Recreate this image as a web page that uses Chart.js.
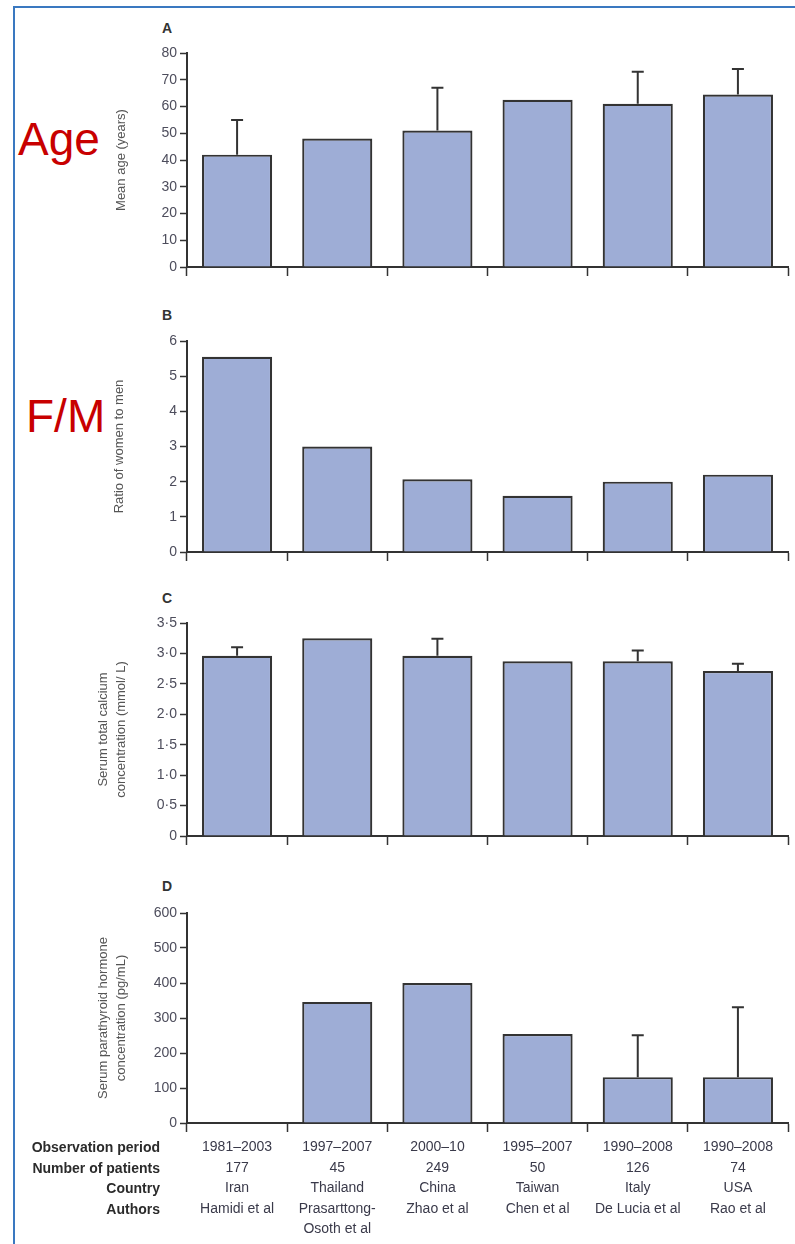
<!DOCTYPE html>
<html lang="en">
<head>
    <meta charset="UTF-8">
    <title>Primary hyperparathyroidism: six cohorts</title>
    <style>
        html, body { margin: 0; padding: 0; overflow: hidden; background: #fff; }
        body { width: 795px; height: 1244px; position: relative; font-family: "Liberation Sans Narrow", "Liberation Sans", sans-serif; }
        .frame { position: absolute; left: 13px; top: 6px; width: 800px; height: 1300px;
                 border-left: 2px solid #3a78c0; border-top: 2px solid #3a78c0; }
        canvas { position: absolute; left: 0; }
        .big { position: absolute; font-family: "Liberation Sans", Arial, sans-serif; font-size: 46px;
               line-height: 46px; color: #c80000; }
        .letter { position: absolute; left: 160px; width: 14px; text-align: center; font-weight: bold;
                  font-size: 14px; line-height: 14px; color: #333; }
        .rows { position: absolute; left: 0; width: 160px; top: 1137px; text-align: right; font-weight: bold;
                font-size: 14px; line-height: 20.5px; color: #2b2b2b; }
    </style>
    <script src="https://cdn.jsdelivr.net/npm/chart.js"></script>
</head>
<body>
    <div class="frame"></div>
    <div class="big" style="left:18px; top:116px;">Age</div>
    <div class="big" style="left:26px; top:393px;">F/M</div>
    <div class="letter" style="top:21px;">A</div>
    <div class="letter" style="top:308px;">B</div>
    <div class="letter" style="top:591px;">C</div>
    <div class="letter" style="top:879px;">D</div>

    <canvas id="chartA"></canvas>
    <canvas id="chartB"></canvas>
    <canvas id="chartC"></canvas>
    <canvas id="chartD"></canvas>

    <div class="rows">Observation period<br>Number of patients<br>Country<br>Authors</div>

    <script>
        // study columns
        const periods   = ['1981–2003', '1997–2007', '2000–10', '1995–2007', '1990–2008', '1990–2008'];
        const patients  = ['177', '45', '249', '50', '126', '74'];
        const countries = ['Iran', 'Thailand', 'China', 'Taiwan', 'Italy', 'USA'];
        const authors   = [['Hamidi et al'], ['Prasarttong-', 'Osoth et al'], ['Zhao et al'],
                           ['Chen et al'], ['De Lucia et al'], ['Rao et al']];

        // A: mean age (years), upper error bar end
        const meanAge    = [42, 48, 51, 62.5, 61, 64.5];
        const meanAgeErr = [55, null, 67, null, 73, 74];
        // B: ratio women to men
        const ratioFM = [5.55, 3.0, 2.07, 1.6, 2.0, 2.2];
        // C: serum total calcium (mmol/L)
        const calcium    = [2.96, 3.25, 2.96, 2.87, 2.87, 2.71];
        const calciumErr = [3.1, null, 3.24, null, 3.05, 2.83];
        // D: serum parathyroid hormone (pg/mL)
        const pth    = [null, 346, 400, 254, 131, 131];
        const pthErr = [null, null, null, null, 251, 331];

        const ink = '#333';
        const tickInk = '#4d4d5c';
        const barFill = '#9eadd6';
        const fontFam = '"Liberation Sans Narrow", "Liberation Sans", sans-serif';

        // column labels for the bottom panel
        const colLabels = periods.map((p, i) => [p, patients[i], countries[i]].concat(authors[i]));

        // only the upper whisker is drawn, as in the print figure
        const errorBars = {
            id: 'errorBars',
            afterDatasetsDraw(chart, args, opts) {
                const errs = opts.values;
                if (!errs) return;
                const meta = chart.getDatasetMeta(0);
                const y = chart.scales.y;
                const vals = chart.data.datasets[0].data;
                const ctx = chart.ctx;
                ctx.save();
                ctx.strokeStyle = ink;
                ctx.lineWidth = 2;
                errs.forEach((e, i) => {
                    if (e == null || vals[i] == null) return;
                    const x = meta.data[i].x;
                    const yTop = y.getPixelForValue(e);
                    const yBar = y.getPixelForValue(vals[i]);
                    ctx.beginPath();
                    ctx.moveTo(x, yBar);
                    ctx.lineTo(x, yTop);
                    ctx.moveTo(x - 6, yTop);
                    ctx.lineTo(x + 6, yTop);
                    ctx.stroke();
                });
                ctx.restore();
            }
        };

        function makePanel(id, top, areaH, xH, values, errs, yMax, step, title, titlePad, fmt, labels) {
            const cv = document.getElementById(id);
            const h = 13 + areaH + xH;
            cv.style.top = (top - 13) + 'px';
            cv.style.width = '795px';
            cv.style.height = h + 'px';
            cv.width = 795;
            cv.height = h;

            return new Chart(cv, {
                type: 'bar',
                data: {
                    labels: labels || periods,
                    datasets: [{
                        data: values,
                        backgroundColor: barFill,
                        borderColor: ink,
                        borderWidth: 2.2,
                        barPercentage: 0.7,
                        categoryPercentage: 1.0
                    }]
                },
                options: {
                    responsive: false,
                    animation: false,
                    events: [],
                    layout: { padding: { left: 77, right: 7, top: 13, bottom: 0 } },
                    plugins: {
                        legend: { display: false },
                        tooltip: { enabled: false },
                        errorBars: { values: errs }
                    },
                    scales: {
                        x: {
                            afterFit: s => { s.height = xH; },
                            border: { display: true, color: ink, width: 2 },
                            grid: { drawOnChartArea: false, drawTicks: true, offset: true,
                                    tickLength: 9, tickColor: ink, tickWidth: 1.5 },
                            ticks: {
                                display: !!labels,
                                padding: 5,
                                color: '#3a3a4a',
                                font: { family: fontFam, size: 14, lineHeight: 1.465 },
                                maxRotation: 0, autoSkip: false
                            }
                        },
                        y: {
                            min: 0, max: yMax,
                            afterFit: s => { s.width = 110; },
                            border: { display: true, color: ink, width: 2 },
                            grid: { drawOnChartArea: false, drawTicks: true,
                                    tickLength: 7, tickColor: ink, tickWidth: 1.5 },
                            ticks: {
                                stepSize: step,
                                padding: 3,
                                color: tickInk,
                                font: { family: fontFam, size: 14 },
                                callback: fmt || (v => v)
                            },
                            title: {
                                display: true,
                                text: title,
                                color: '#555',
                                padding: { top: titlePad, bottom: 0 },
                                font: { family: fontFam, size: 13, lineHeight: 1.35 }
                            }
                        }
                    }
                },
                plugins: [errorBars]
            });
        }

        // lancet style decimals, e.g. 3·5
        const dotFmt = v => v === 0 ? '0' : v.toFixed(1).replace('.', '·');

        makePanel('chartA', 53, 214, 12, meanAge, meanAgeErr, 80, 10,
                  'Mean age (years)', 36);
        makePanel('chartB', 341, 211, 12, ratioFM, null, 6, 1,
                  'Ratio of women to men', 34);
        makePanel('chartC', 623, 213, 12, calcium, calciumErr, 3.5, 0.5,
                  ['Serum total calcium', 'concentration (mmol/ L)'], 18, dotFmt);
        makePanel('chartD', 913, 210, 125, pth, pthErr, 600, 100,
                  ['Serum parathyroid hormone', 'concentration (pg/mL)'], 18, null, colLabels);
    </script>
</body>
</html>
